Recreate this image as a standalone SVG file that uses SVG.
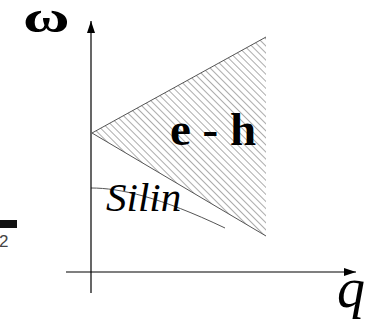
<svg xmlns="http://www.w3.org/2000/svg" width="375" height="320" viewBox="0 0 375 320">
  <style>
    .axis { stroke: #000; stroke-width: 1.2; fill: none; }
    .edge { stroke: #555; stroke-width: 1; fill: none; }
  </style>
  <defs>
    <pattern id="hatch" patternUnits="userSpaceOnUse" width="5" height="5" patternTransform="rotate(-45)">
      <line x1="0" y1="0" x2="0" y2="5" stroke="#666" stroke-width="1.1"/>
    </pattern>
    <marker id="arrow" viewBox="0 0 12 8" refX="12" refY="4" markerWidth="12" markerHeight="8" markerUnits="userSpaceOnUse" orient="auto">
      <path d="M0,0 L12,4 L0,8 Z" fill="#000"/>
    </marker>
  </defs>
  <rect width="375" height="320" fill="#fff"/>

  <g id="fragment">
    <rect x="0" y="220" width="17" height="8" fill="#111"/>
    <text x="-1" y="247" font-family="Liberation Sans, Arial, sans-serif" font-size="17" fill="#444">2</text>
  </g>

  <g id="eh-region">
    <polygon points="92,133 266,37 266,236" fill="url(#hatch)"/>
    <line class="edge" x1="92" y1="133" x2="266" y2="37"/>
    <line class="edge" x1="92" y1="133" x2="266" y2="236"/>
    <text x="170" y="145" font-family="Liberation Serif, Times New Roman, serif" font-size="47" font-weight="bold" fill="#000">e - h</text>
  </g>

  <g id="silin">
    <path class="edge" d="M91,188 C120,188 160,197 225,228"/>
    <text x="106" y="211" font-family="Liberation Serif, Times New Roman, serif" font-size="41" font-style="italic" fill="#000">Silin</text>
  </g>

  <g id="connectors">
    <line class="axis" x1="91" y1="293" x2="91" y2="21" marker-end="url(#arrow)"/>
    <line class="axis" x1="66" y1="272" x2="356" y2="272" marker-end="url(#arrow)"/>
  </g>

  <g id="labels">
    <text transform="translate(23,32) scale(1.45,1)" x="0" y="0" font-family="Liberation Serif, Times New Roman, serif" font-size="44" font-weight="bold" fill="#000">ω</text>
    <text x="337" y="307" font-family="Liberation Serif, Times New Roman, serif" font-size="56" font-style="italic" fill="#000">q</text>
  </g>
</svg>
